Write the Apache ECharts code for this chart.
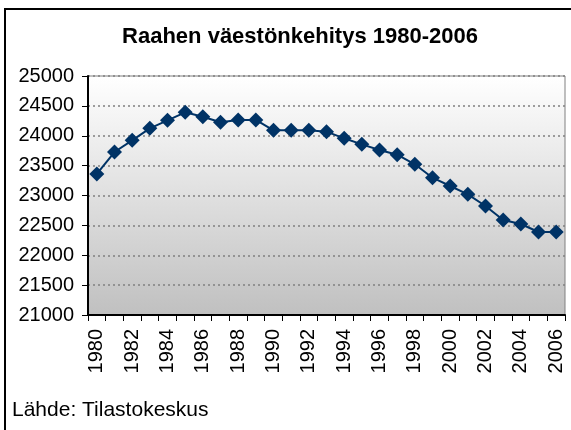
<!DOCTYPE html>
<html><head><meta charset="utf-8">
<script src="https://cdn.jsdelivr.net/npm/echarts@6/dist/echarts.min.js"></script>
<style>html,body{margin:0;padding:0;background:#fff}#c{width:571px;height:430px}</style>
</head><body><div id="c"></div>
<script>
const years = ['1980','1981','1982','1983','1984','1985','1986','1987','1988','1989','1990','1991','1992','1993','1994','1995','1996','1997','1998','1999','2000','2001','2002','2003','2004','2005','2006'];
const population = [23360,23728,23923,24124,24258,24392,24319,24225,24264,24264,24091,24091,24091,24068,23957,23856,23761,23683,23522,23298,23159,23019,22824,22590,22523,22389,22389];
const yTicks = [21000,21500,22000,22500,23000,23500,24000,24500,25000];
const titleText = 'Raahen väestönkehitys 1980-2006';
const sourceText = 'Lähde: Tilastokeskus';

const chart = echarts.init(document.getElementById('c'), null, {renderer:'canvas'});
const F = 'Liberation Sans, Arial, sans-serif';
chart.setOption({
  animation:false,
  graphic:[
    {type:'rect',shape:{x:5,y:9,width:580,height:440},style:{fill:'none',stroke:'#000',lineWidth:2},z:-1},
    {type:'text',x:300,y:37,style:{text:titleText,font:'bold 22px '+F,fill:'#000',textAlign:'center',textVerticalAlign:'middle'}},
    {type:'text',left:12,top:400,style:{text:sourceText,font:'21px '+F,fill:'#000'}}
  ],
  grid:{left:88,right:6,top:76,bottom:115,show:true,borderColor:'#808080',borderWidth:1,
    backgroundColor:new echarts.graphic.LinearGradient(0,0,0,1,[{offset:0,color:'#ffffff'},{offset:1,color:'#c0c0c0'}])},
  xAxis:{type:'category',data:years,boundaryGap:true,
    axisLine:{lineStyle:{color:'#000',width:2}},
    axisTick:{show:true,interval:0,length:6,lineStyle:{color:'#000',width:1}},
    axisLabel:{interval:1,rotate:90,fontFamily:F,fontSize:20,color:'#000',margin:14},
    splitLine:{show:false}},
  yAxis:{type:'value',min:yTicks[0],max:yTicks[yTicks.length-1],interval:500,
    axisLine:{show:true,lineStyle:{color:'#000',width:2}},
    axisTick:{show:true,length:6,lineStyle:{color:'#000'}},
    axisLabel:{fontFamily:F,fontSize:20,color:'#000',margin:14,formatter:v=>String(v)},
    splitLine:{show:true,lineStyle:{color:'#808080',type:[2,3],width:1.5}}},
  series:[{type:'line',data:population,symbol:'diamond',symbolSize:15,showAllSymbol:true,
    lineStyle:{color:'#003366',width:2},itemStyle:{color:'#003366'}}]
});
</script></body></html>
